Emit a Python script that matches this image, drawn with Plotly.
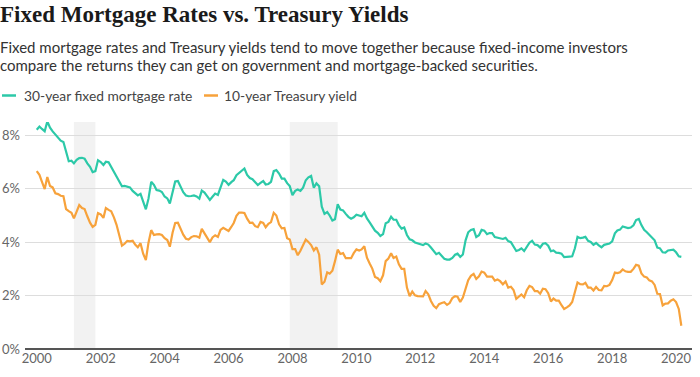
import plotly.graph_objects as go
import pandas as pd

# ---- data (monthly, Jan 2000 - Mar 2020) ----
mortgage_30yr = [
    8.21, 8.33, 8.24, 8.15, 8.52, 8.29, 8.15, 8.03, 7.91, 7.80, 7.75, 7.38,
    7.03, 7.05, 6.95, 7.08, 7.15, 7.16, 7.13, 6.95, 6.82, 6.62, 6.66, 7.07,
    7.00, 6.89, 7.01, 6.99, 6.81, 6.65, 6.49, 6.29, 6.09, 6.11, 6.07, 6.05,
    5.92, 5.84, 5.75, 5.81, 5.48, 5.23, 5.63, 6.26, 6.15, 5.95, 5.93, 5.88,
    5.71, 5.64, 5.45, 5.83, 6.27, 6.29, 6.06, 5.87, 5.75, 5.72, 5.73, 5.75,
    5.71, 5.63, 5.93, 5.86, 5.72, 5.58, 5.70, 5.82, 5.77, 6.07, 6.33, 6.27,
    6.15, 6.25, 6.32, 6.51, 6.60, 6.68, 6.76, 6.52, 6.40, 6.36, 6.24, 6.14,
    6.22, 6.29, 6.16, 6.18, 6.26, 6.66, 6.70, 6.57, 6.38, 6.38, 6.21, 6.10,
    5.76, 5.92, 5.97, 5.92, 6.04, 6.32, 6.43, 6.48, 6.04, 6.20, 6.09, 5.33,
    5.06, 5.13, 5.00, 4.81, 4.86, 5.42, 5.22, 5.19, 5.06, 4.95, 4.88, 4.93,
    5.03, 4.99, 4.97, 5.10, 4.89, 4.74, 4.56, 4.43, 4.35, 4.23, 4.30, 4.71,
    4.76, 4.95, 4.84, 4.84, 4.64, 4.51, 4.55, 4.27, 4.11, 4.07, 3.99, 3.96,
    3.92, 3.89, 3.95, 3.91, 3.80, 3.68, 3.55, 3.60, 3.50, 3.38, 3.35, 3.35,
    3.41, 3.53, 3.57, 3.45, 3.54, 4.07, 4.37, 4.46, 4.49, 4.19, 4.26, 4.46,
    4.43, 4.30, 4.34, 4.34, 4.19, 4.16, 4.13, 4.12, 4.16, 4.04, 4.00, 3.86,
    3.67, 3.71, 3.77, 3.67, 3.84, 3.98, 4.05, 3.91, 3.89, 3.80, 3.94, 3.96,
    3.87, 3.66, 3.69, 3.61, 3.60, 3.57, 3.44, 3.44, 3.46, 3.47, 3.77, 4.20,
    4.15, 4.17, 4.20, 4.05, 4.01, 3.90, 3.97, 3.88, 3.81, 3.90, 3.92, 3.95,
    4.03, 4.33, 4.44, 4.47, 4.59, 4.57, 4.53, 4.55, 4.63, 4.83, 4.87, 4.64,
    4.46, 4.37, 4.27, 4.14, 4.07, 3.80, 3.77, 3.62, 3.61, 3.69, 3.70, 3.72,
    3.62, 3.47, 3.45,
]
treasury_10yr = [
    6.66, 6.52, 6.26, 5.99, 6.44, 6.10, 6.05, 5.83, 5.80, 5.74, 5.72, 5.24,
    5.16, 5.10, 4.89, 5.14, 5.39, 5.28, 5.24, 4.97, 4.73, 4.57, 4.65, 5.09,
    5.04, 4.91, 5.28, 5.21, 5.16, 4.93, 4.65, 4.26, 3.87, 3.94, 4.05, 4.03,
    4.05, 3.90, 3.81, 3.96, 3.57, 3.33, 3.98, 4.45, 4.27, 4.29, 4.30, 4.27,
    4.15, 4.08, 3.83, 4.35, 4.72, 4.73, 4.50, 4.28, 4.13, 4.10, 4.19, 4.23,
    4.22, 4.17, 4.50, 4.34, 4.14, 4.00, 4.18, 4.26, 4.20, 4.46, 4.54, 4.47,
    4.42, 4.57, 4.72, 4.99, 5.11, 5.11, 5.09, 4.88, 4.72, 4.73, 4.60, 4.56,
    4.76, 4.72, 4.56, 4.69, 4.75, 5.10, 5.00, 4.67, 4.52, 4.53, 4.15, 4.10,
    3.74, 3.74, 3.51, 3.68, 3.88, 4.10, 4.01, 3.89, 3.69, 3.81, 3.53, 2.42,
    2.52, 2.87, 2.82, 2.93, 3.29, 3.72, 3.56, 3.59, 3.40, 3.39, 3.40, 3.59,
    3.73, 3.69, 3.73, 3.85, 3.42, 3.20, 3.01, 2.70, 2.65, 2.54, 2.76, 3.29,
    3.39, 3.58, 3.41, 3.46, 3.17, 3.00, 3.00, 2.30, 1.98, 2.15, 2.01, 1.98,
    1.97, 1.97, 2.17, 2.05, 1.80, 1.62, 1.53, 1.68, 1.72, 1.75, 1.65, 1.72,
    1.91, 1.98, 1.96, 1.76, 1.93, 2.30, 2.58, 2.74, 2.81, 2.62, 2.72, 2.90,
    2.86, 2.71, 2.72, 2.71, 2.56, 2.60, 2.54, 2.42, 2.53, 2.30, 2.33, 2.21,
    1.88, 1.98, 2.04, 1.94, 2.20, 2.36, 2.32, 2.17, 2.17, 2.07, 2.26, 2.24,
    2.09, 1.78, 1.89, 1.81, 1.81, 1.64, 1.50, 1.56, 1.63, 1.76, 2.14, 2.49,
    2.43, 2.42, 2.48, 2.30, 2.30, 2.19, 2.32, 2.21, 2.20, 2.36, 2.35, 2.40,
    2.58, 2.86, 2.84, 2.87, 2.98, 2.91, 2.89, 2.89, 3.00, 3.15, 3.12, 2.83,
    2.71, 2.68, 2.57, 2.53, 2.40, 2.07, 2.06, 1.63, 1.70, 1.71, 1.81, 1.86,
    1.76, 1.50, 0.87,
]
months = pd.date_range("2000-01-01", periods=len(mortgage_30yr), freq="MS")

recessions = [("2001-03-01", "2001-11-01"), ("2007-12-01", "2009-06-01")]
y_ticks = [0, 2, 4, 6, 8]
y_tick_labels = ["0%", "2%", "4%", "6%", "8%"]

series_names = ["30-year fixed mortgage rate", "10-year Treasury yield"]
title_text = "Fixed Mortgage Rates vs. Treasury Yields"
subtitle_lines = [
    "Fixed mortgage rates and Treasury yields tend to move together because fixed-income investors",
    "compare the returns they can get on government and mortgage-backed securities.",
]

# ---- styling ----
GREEN = "#2cc9a8"
ORANGE = "#f7a23b"
W, H = 700, 377
L, R, T, B = 25, 8, 122, 28
PW, PH = W - L - R, H - T - B
SANS = "Lato, 'Noto Sans', sans-serif"


def px_x(px):
    return (px - L) / PW


def px_y(py):
    return (H - B - py) / PH


fig = go.Figure()
fig.add_trace(go.Scatter(x=months, y=mortgage_30yr, mode="lines", name=series_names[0],
                         line=dict(color=GREEN, width=2.2), showlegend=False))
fig.add_trace(go.Scatter(x=months, y=treasury_10yr, mode="lines", name=series_names[1],
                         line=dict(color=ORANGE, width=2.2), showlegend=False))

shapes = []
for x0, x1 in recessions:
    shapes.append(dict(type="rect", xref="x", yref="paper", x0=x0, x1=x1, y0=0, y1=1,
                       fillcolor="#f2f2f2", line=dict(width=0), layer="below"))

annotations = [
    dict(text="<b>" + title_text + "</b>", xref="paper", yref="paper", x=px_x(-2), y=px_y(15),
         xanchor="left", yanchor="middle", showarrow=False,
         font=dict(family="'Liberation Serif', serif", size=23, color="#1a1a1a")),
]
for i, line in enumerate(subtitle_lines):
    annotations.append(dict(text=line, xref="paper", yref="paper", x=px_x(-2), y=px_y(46.5 + 18.5 * i),
                            xanchor="left", yanchor="middle", showarrow=False,
                            font=dict(family=SANS, size=15, color="#333333")))

legend_items = [(series_names[0], GREEN, 2, 22), (series_names[1], ORANGE, 204, 222)]
for name, color, seg_x, text_x in legend_items:
    shapes.append(dict(type="line", xref="paper", yref="paper", x0=px_x(seg_x), x1=px_x(seg_x + 14),
                       y0=px_y(95.5), y1=px_y(95.5), line=dict(color=color, width=2.5)))
    annotations.append(dict(text=name, xref="paper", yref="paper", x=px_x(text_x), y=px_y(95.5),
                            xanchor="left", yanchor="middle", showarrow=False,
                            font=dict(family=SANS, size=13.8, color="#444444")))

fig.update_layout(
    width=W, height=H,
    margin=dict(l=L, r=R, t=T, b=B, pad=0),
    paper_bgcolor="white", plot_bgcolor="white",
    shapes=shapes, annotations=annotations,
    showlegend=False,
    xaxis=dict(type="date", range=["1999-08-20", "2020-07-01"], tick0="2000-01-01", dtick="M24",
               tickformat="%Y", showgrid=False, zeroline=False, showline=False, ticks="",
               automargin=False,
               tickfont=dict(family=SANS, size=13, color="#666666")),
    yaxis=dict(range=[0, 8.5], tickvals=y_ticks, ticktext=y_tick_labels, showgrid=True,
               gridcolor="#dddddd", gridwidth=1, zeroline=True, zerolinecolor="#555555",
               zerolinewidth=1.5, showline=False, ticks="", ticklabelstandoff=4,
               automargin=False,
               tickfont=dict(family=SANS, size=13, color="#666666")),
)

fig.write_html("out.html", config={"displayModeBar": False},
               post_script="document.body.style.margin='0';document.body.style.overflow='hidden';")
